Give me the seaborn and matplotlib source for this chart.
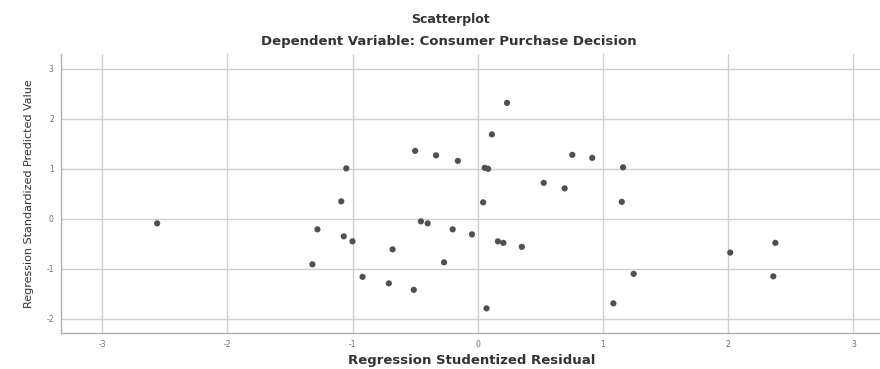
import numpy as np
import pandas as pd
import matplotlib
matplotlib.use("Agg")
import matplotlib.pyplot as plt
import seaborn as sns

# studentized residual (x) vs standardized predicted value (y)
resid = [-2.56, -1.05, -1.09, -1.28, -1.07, -1.00, -0.68, -1.32, -0.92, -0.71,
         0.234, 0.113, -0.50, -0.333, -0.159, 0.056, 0.083, 0.755, 0.914, 1.16,
         0.527, 0.694, 0.043, 1.15, -0.454, -0.40, -0.20, -0.046, 0.161, 0.204,
         0.352, -0.269, -0.511, 0.07, 1.245, 1.083, 2.016, 2.376, 2.36]
pred = [-0.09, 1.01, 0.35, -0.21, -0.35, -0.45, -0.61, -0.91, -1.16, -1.29,
        2.32, 1.69, 1.36, 1.27, 1.16, 1.02, 1.00, 1.28, 1.22, 1.03,
        0.72, 0.61, 0.33, 0.34, -0.05, -0.09, -0.21, -0.31, -0.45, -0.48,
        -0.56, -0.87, -1.42, -1.79, -1.10, -1.69, -0.675, -0.48, -1.15]
xticks = [-3, -2, -1, 0, 1, 2, 3]
yticks = [-2, -1, 0, 1, 2, 3]

df = pd.DataFrame({"resid": resid, "pred": pred})

sns.set_style("white")
plt.rcParams["font.family"] = ["DejaVu Sans"]

fig = plt.figure(figsize=(8.8, 3.69), dpi=100)
ax = fig.add_axes([0.069, 0.098, 0.935, 0.756])

sns.scatterplot(data=df, x="resid", y="pred", ax=ax, color="#505050",
                s=20, marker="o", edgecolor="none", zorder=3)

ax.set_xlim(-3.33, 3.24)
ax.set_ylim(-2.28, 3.3)
ax.set_xticks(xticks)
ax.set_yticks(yticks)
ax.set_xticklabels([str(t) for t in xticks], fontsize=5.5, color="#707070")
ax.set_yticklabels([str(t) for t in yticks], fontsize=5.5, color="#707070")
ax.tick_params(axis="both", length=0, pad=5)
ax.grid(True, color="#cfcfcf", linewidth=1)
ax.set_axisbelow(True)

for side in ["top", "right"]:
    ax.spines[side].set_visible(False)
for side in ["left", "bottom"]:
    ax.spines[side].set_color("#b0b0b0")
    ax.spines[side].set_linewidth(1)

ax.set_xlabel("Regression Studentized Residual", fontsize=9.5, fontweight="bold",
              color="#333333", labelpad=4)
ax.set_ylabel("Regression Standardized Predicted Value", fontsize=8,
              color="#333333", labelpad=9)

fig.text(0.512, 0.948, "Scatterplot", ha="center", va="center",
         fontsize=9, fontweight="bold", color="#333333")
fig.text(0.51, 0.888, "Dependent Variable: Consumer Purchase Decision",
         ha="center", va="center", fontsize=9.5, fontweight="bold", color="#333333")

fig.savefig("out.png", dpi=100)
